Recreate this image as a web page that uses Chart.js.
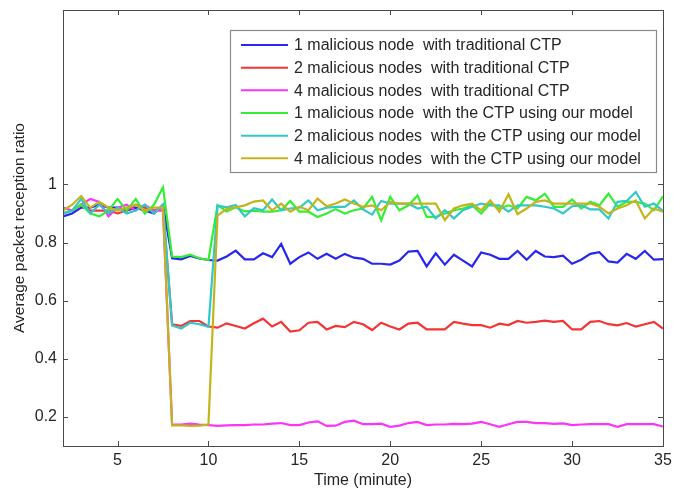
<!DOCTYPE html>
<html>
<head>
<meta charset="utf-8">
<script src="https://cdn.jsdelivr.net/npm/chart.js@4.4.1/dist/chart.umd.min.js"></script>
<style>
  html, body { margin: 0; padding: 0; background: #fff; }
</style>
</head>
<body>
<canvas id="chart" width="673" height="489"></canvas>
<script>
// sampling times (minutes)
const times = [2, 2.5, 3, 3.5, 4, 4.5, 5, 5.5, 6, 6.5, 7, 7.5, 8, 8.5, 9, 9.5, 10, 10.5, 11, 11.5,
  12, 12.5, 13, 13.5, 14, 14.5, 15, 15.5, 16, 16.5, 17, 17.5, 18, 18.5, 19, 19.5, 20, 20.5, 21, 21.5,
  22, 22.5, 23, 23.5, 24, 24.5, 25, 25.5, 26, 26.5, 27, 27.5, 28, 28.5, 29, 29.5, 30, 30.5, 31, 31.5,
  32, 32.5, 33, 33.5, 34, 34.5, 35];

const oneNodeTrad = [0.89, 0.90, 0.92, 0.92, 0.93, 0.92, 0.92, 0.91, 0.92, 0.91, 0.90, 0.93,
  0.746, 0.742, 0.754, 0.745, 0.740, 0.738, 0.752, 0.772, 0.742, 0.742,
  0.763, 0.750, 0.795, 0.727, 0.750, 0.766, 0.744, 0.761, 0.744, 0.761, 0.748, 0.744, 0.727, 0.727, 0.724,
  0.738, 0.769, 0.771, 0.718, 0.763, 0.724, 0.758, 0.738, 0.718, 0.766, 0.758, 0.744, 0.744, 0.771, 0.741,
  0.771, 0.752, 0.750, 0.755, 0.727, 0.741, 0.761, 0.767, 0.735, 0.731, 0.761, 0.744, 0.771, 0.741, 0.743];

const twoNodesTrad = [0.90, 0.91, 0.93, 0.91, 0.91, 0.91, 0.90, 0.91, 0.93, 0.92, 0.91, 0.92,
  0.519, 0.513, 0.530, 0.530, 0.511, 0.507, 0.522, 0.513, 0.504, 0.522,
  0.538, 0.511, 0.527, 0.494, 0.498, 0.524, 0.527, 0.501, 0.513, 0.509, 0.527, 0.519, 0.499, 0.524, 0.511,
  0.501, 0.521, 0.524, 0.501, 0.501, 0.501, 0.527, 0.521, 0.516, 0.516, 0.507, 0.521, 0.516, 0.530, 0.524,
  0.527, 0.531, 0.527, 0.530, 0.501, 0.501, 0.527, 0.530, 0.519, 0.515, 0.523, 0.511, 0.519, 0.527, 0.504];

const fourNodesTrad = [0.92, 0.91, 0.93, 0.95, 0.94, 0.89, 0.92, 0.93, 0.91, 0.93, 0.91, 0.91,
  0.174, 0.174, 0.177, 0.174, 0.172, 0.169, 0.171, 0.172, 0.172, 0.174,
  0.174, 0.177, 0.179, 0.172, 0.172, 0.181, 0.185, 0.169, 0.170, 0.183, 0.187, 0.175, 0.175, 0.177, 0.166,
  0.170, 0.179, 0.183, 0.172, 0.174, 0.174, 0.176, 0.175, 0.177, 0.183, 0.175, 0.166, 0.175, 0.183, 0.183,
  0.179, 0.179, 0.176, 0.178, 0.172, 0.174, 0.175, 0.175, 0.175, 0.166, 0.175, 0.175, 0.175, 0.175, 0.167];

const oneNodeModel = [0.90, 0.91, 0.93, 0.90, 0.89, 0.91, 0.95, 0.91, 0.95, 0.90, 0.93, 0.99,
  0.752, 0.750, 0.758, 0.746, 0.740, 0.929, 0.907, 0.921, 0.907, 0.910,
  0.906, 0.906, 0.911, 0.943, 0.906, 0.906, 0.888, 0.900, 0.915, 0.900, 0.911, 0.917, 0.957, 0.877, 0.957,
  0.911, 0.928, 0.962, 0.888, 0.888, 0.900, 0.911, 0.917, 0.928, 0.900, 0.934, 0.917, 0.928, 0.917, 0.957,
  0.945, 0.968, 0.923, 0.923, 0.948, 0.917, 0.940, 0.928, 0.968, 0.923, 0.940, 0.940, 0.934, 0.911, 0.959];

const twoNodesModel = [0.90, 0.91, 0.95, 0.90, 0.93, 0.90, 0.92, 0.90, 0.91, 0.93, 0.90, 0.93,
  0.515, 0.504, 0.524, 0.519, 0.510, 0.927, 0.921, 0.929, 0.890, 0.918,
  0.911, 0.948, 0.911, 0.917, 0.920, 0.945, 0.911, 0.920, 0.923, 0.923, 0.945, 0.914, 0.896, 0.943, 0.934,
  0.934, 0.934, 0.917, 0.923, 0.883, 0.911, 0.883, 0.911, 0.923, 0.934, 0.928, 0.928, 0.906, 0.928, 0.928,
  0.928, 0.923, 0.917, 0.900, 0.925, 0.928, 0.914, 0.914, 0.883, 0.940, 0.943, 0.974, 0.923, 0.934, 0.909];

const fourNodesModel = [0.91, 0.93, 0.96, 0.92, 0.94, 0.92, 0.91, 0.92, 0.93, 0.91, 0.92, 0.92,
  0.171, 0.171, 0.169, 0.170, 0.174, 0.893, 0.916, 0.921, 0.928, 0.941,
  0.945, 0.911, 0.934, 0.906, 0.923, 0.911, 0.951, 0.925, 0.934, 0.948, 0.934, 0.923, 0.928, 0.911, 0.940,
  0.934, 0.934, 0.934, 0.934, 0.934, 0.877, 0.917, 0.928, 0.934, 0.911, 0.945, 0.906, 0.966, 0.898, 0.917,
  0.940, 0.945, 0.934, 0.934, 0.934, 0.934, 0.934, 0.923, 0.900, 0.917, 0.928, 0.945, 0.883, 0.917, 0.906];

const seriesLabels = [
  '1 malicious node  with traditional CTP',
  '2 malicious nodes  with traditional CTP',
  '4 malicious nodes  with traditional CTP',
  '1 malicious node  with the CTP using our model',
  '2 malicious nodes  with the CTP using our model',
  '4 malicious nodes  with the CTP using our model'
];
const seriesColors = ['#2626ee', '#f43434', '#fb34fb', '#34ee34', '#30c8c8', '#c4b41c'];
const xTicks = [5, 10, 15, 20, 25, 30, 35];
const yTicks = [0.2, 0.4, 0.6, 0.8, 1];

const allSeries = [oneNodeTrad, twoNodesTrad, fourNodesTrad, oneNodeModel, twoNodesModel, fourNodesModel];
const FONT = "'Liberation Sans', Arial, Helvetica, sans-serif";
const TEXT = '#262626';

// matlab style box with inward ticks + legend inside the axes
const boxPlugin = {
  id: 'boxPlugin',
  afterDatasetsDraw(chart) {
    const { ctx, chartArea: a } = chart;
    const xs = chart.scales.x, ys = chart.scales.y;
    ctx.save();
    ctx.strokeStyle = '#4a4a4a';
    ctx.lineWidth = 1;
    ctx.strokeRect(Math.round(a.left) + 0.5, Math.round(a.top) + 0.5,
      Math.round(a.right - a.left), Math.round(a.bottom - a.top));
    const tl = 5;
    ctx.beginPath();
    xTicks.forEach(t => {
      const px = Math.round(xs.getPixelForValue(t)) + 0.5;
      ctx.moveTo(px, a.bottom); ctx.lineTo(px, a.bottom - tl);
      ctx.moveTo(px, a.top); ctx.lineTo(px, a.top + tl);
    });
    yTicks.forEach(t => {
      const py = Math.round(ys.getPixelForValue(t)) + 0.5;
      ctx.moveTo(a.left, py); ctx.lineTo(a.left + tl, py);
      ctx.moveTo(a.right, py); ctx.lineTo(a.right - tl, py);
    });
    ctx.stroke();

    // legend
    const lx = 230, ly = 30, lw = 426, lh = 142;
    ctx.fillStyle = '#fff';
    ctx.fillRect(lx, ly, lw, lh);
    ctx.strokeStyle = '#8a8a8a';
    ctx.lineWidth = 1.2;
    ctx.strokeRect(lx + 0.5, ly + 0.5, lw, lh);
    ctx.font = '16px ' + FONT;
    ctx.textBaseline = 'middle';
    ctx.textAlign = 'left';
    seriesLabels.forEach((lab, i) => {
      const yy = 45 + i * 22.67;
      ctx.strokeStyle = seriesColors[i];
      ctx.lineWidth = 2;
      ctx.beginPath();
      ctx.moveTo(241, yy); ctx.lineTo(288, yy);
      ctx.stroke();
      ctx.fillStyle = TEXT;
      ctx.fillText(lab, 294, yy + 1);
    });
    ctx.restore();
  }
};

new Chart(document.getElementById('chart'), {
  type: 'line',
  data: {
    datasets: allSeries.map((vals, i) => ({
      label: seriesLabels[i],
      data: vals.map((v, j) => ({ x: times[j], y: v })),
      borderColor: seriesColors[i],
      borderWidth: 2.2,
      pointRadius: 0,
      tension: 0,
      fill: false,
      order: 5 - i
    }))
  },
  options: {
    responsive: false,
    animation: false,
    layout: { padding: { top: 10, right: 10, left: 0, bottom: 0 } },
    plugins: { legend: { display: false }, tooltip: { enabled: false } },
    scales: {
      x: {
        type: 'linear',
        min: 2,
        max: 35,
        afterBuildTicks: s => { s.ticks = xTicks.map(v => ({ value: v })); },
        afterFit: s => { s.height = 43; s.paddingLeft = 0; s.paddingRight = 0; },
        grid: { display: false, drawTicks: false },
        border: { display: false },
        ticks: { color: TEXT, font: { family: FONT, size: 16 }, padding: 5, maxRotation: 0 },
        title: { display: true, text: 'Time (minute)', color: TEXT, font: { family: FONT, size: 16, lineHeight: 1 }, padding: { top: 0, bottom: 0 } }
      },
      y: {
        min: 0.1,
        max: 1.6,
        afterBuildTicks: s => { s.ticks = yTicks.map(v => ({ value: v })); },
        afterFit: s => { s.width = 63; s.paddingTop = 0; s.paddingBottom = 0; },
        grid: { display: false, drawTicks: false },
        border: { display: false },
        ticks: {
          color: TEXT, font: { family: FONT, size: 16 }, padding: 6,
          callback: v => (v === 1 ? '1' : v.toFixed(1))
        },
        title: { display: true, text: 'Average packet reception ratio', color: TEXT, font: { family: FONT, size: 15.5, lineHeight: 1 }, padding: { top: 12, bottom: 0 } }
      }
    }
  },
  plugins: [boxPlugin]
});
</script>
</body>
</html>
